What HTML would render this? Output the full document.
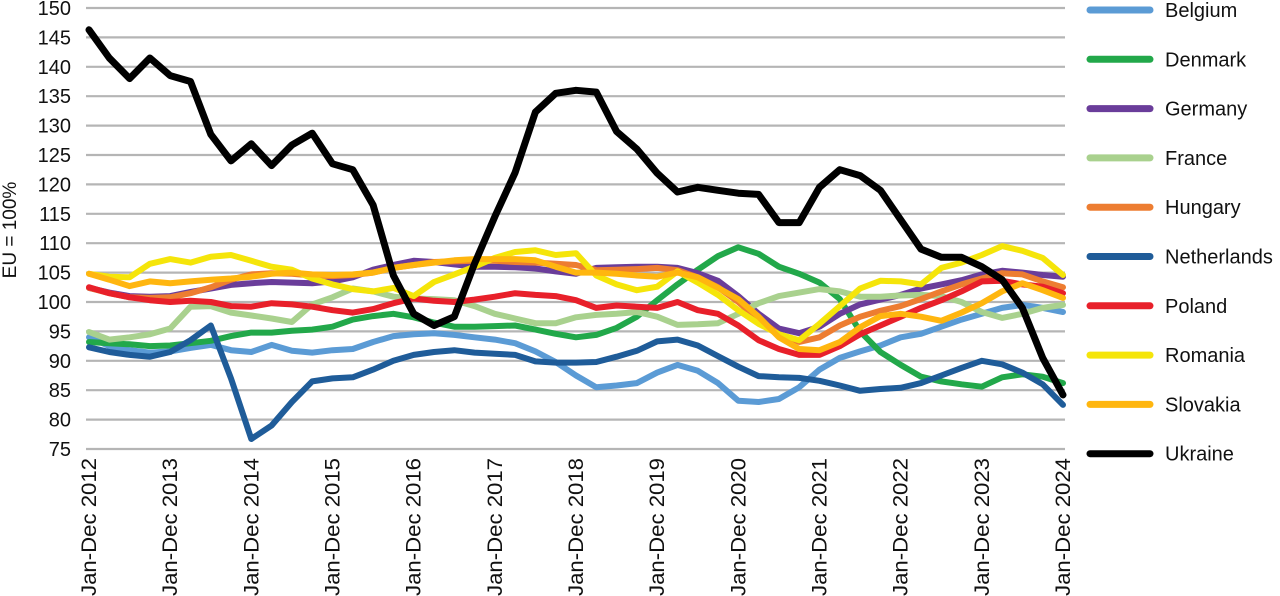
<!DOCTYPE html>
<html><head><meta charset="utf-8"><style>
html,body{margin:0;padding:0;background:#fff;}
svg{display:block;font-family:"Liberation Sans",Arial,sans-serif;}
</style></head><body>
<svg id="chart" width="1280" height="596" viewBox="0 0 1280 596" xmlns="http://www.w3.org/2000/svg">
<g id="grid"></g>
<g id="yaxis"></g>
<g id="xaxis"></g>
<text transform="translate(16,230) rotate(-90)" text-anchor="middle" font-size="19" fill="#111">EU = 100%</text>
<g id="series"></g>
<g id="legend"></g>
</svg>
<script>
const xLabels=["Jan-Dec 2012","Jan-Dec 2013","Jan-Dec 2014","Jan-Dec 2015","Jan-Dec 2016","Jan-Dec 2017","Jan-Dec 2018","Jan-Dec 2019","Jan-Dec 2020","Jan-Dec 2021","Jan-Dec 2022","Jan-Dec 2023","Jan-Dec 2024"];
const yTicks=[75,80,85,90,95,100,105,110,115,120,125,130,135,140,145,150];
const seriesNames=["Belgium","Denmark","Germany","France","Hungary","Netherlands","Poland","Romania","Slovakia","Ukraine"];
const seriesColors=["#5b9bd5","#22a84a","#6a3d9a","#a9d18e","#ed7d31","#1f5c99","#e8202a","#f5e50a","#ffb60f","#000000"];
// quarterly values, Q index 0 = Jan-Dec 2012 ... 48 = Jan-Dec 2024
const belgium=[94,92.5,91.8,91.4,91.6,92.2,92.7,91.8,91.5,92.7,91.7,91.4,91.8,92,93.2,94.2,94.5,94.7,94.4,94,93.6,93,91.6,89.8,87.5,85.5,85.8,86.2,88,89.3,88.3,86.2,83.2,83,83.5,85.5,88.5,90.5,91.6,92.6,94,94.6,95.8,97,98,99,99.5,99,98.3];
const denmark=[93.2,93,92.8,92.5,92.6,93,93.4,94.2,94.8,94.8,95.1,95.3,95.8,97,97.6,98,97.4,96.5,95.8,95.8,95.9,96,95.3,94.6,94,94.4,95.6,97.5,100.3,103,105.5,107.8,109.3,108.2,106,104.8,103.3,100.5,95,91.5,89.3,87.3,86.5,86,85.6,87.2,87.7,87.3,86.2];
const germany=[102.4,101.6,101,100.9,101,101.7,102.3,102.9,103.2,103.4,103.3,103.2,103.5,104.2,105.5,106.3,107,106.8,106.4,106,106,105.9,105.7,105.2,104.8,105.8,105.9,106,106,105.8,104.9,103.6,101,98,95.5,94.7,95.8,98,99.6,100.4,101.2,102.3,103,103.7,104.7,105.3,105,104.6,104.3];
const france=[94.9,93.6,94,94.5,95.5,99.2,99.3,98.2,97.7,97.2,96.6,99.6,100.8,102.3,101.8,100.9,100.6,100.5,100.3,99.3,98,97.2,96.4,96.4,97.4,97.8,98,98.3,97.5,96.1,96.2,96.4,98,99.8,101,101.6,102.2,101.8,100.9,100.9,101.1,101.2,101,100,98.3,97.3,98,99,99.5];
const hungary=[102.4,101.5,100.8,100.7,100.8,101.5,102.5,103.8,104.7,104.9,104.8,104.5,104.4,104.6,105,105.8,106.3,106.8,106.9,107,107,106.8,106.7,106.5,106.3,105.4,105.5,105.6,105.8,105.4,104.2,102.5,100,97,94.5,93.2,94,96,97.5,98.5,99.3,100.5,101.8,103,104,104.9,104.7,103.5,102.5];
const netherlands=[92.3,91.5,91,90.7,91.5,93.5,96,87,76.7,79,83,86.5,87,87.2,88.5,90,91,91.5,91.8,91.4,91.2,91,89.9,89.7,89.7,89.8,90.7,91.7,93.3,93.6,92.6,90.8,89,87.4,87.2,87.1,86.6,85.8,84.9,85.2,85.4,86.2,87.5,88.8,90,89.4,88,86,82.5];
const poland=[102.5,101.5,100.8,100.3,100,100.2,100,99.3,99.2,99.8,99.6,99.2,98.6,98.2,98.8,99.8,100.6,100.2,100,100.4,100.9,101.5,101.2,101,100.3,99,99.4,99.2,99,100,98.6,98,96,93.5,92,91,91,92.5,94.5,96,97.5,99,100.3,101.8,103.5,103.6,103,102.6,101.5];
const romania=[104.8,104.3,104.2,106.5,107.3,106.7,107.7,108,107,106,105.5,104,103,102.2,101.8,102.4,101,103.4,104.7,106,107.5,108.5,108.8,108,108.3,104.5,103,102,102.6,105.2,103.3,101.2,98.6,96.3,94.5,93.5,96.3,99.3,102.3,103.6,103.5,103,105.8,106.7,108,109.5,108.7,107.5,104.6];
const slovakia=[104.8,103.8,102.7,103.5,103.2,103.5,103.8,104,104.3,104.8,105,104.7,104.6,104.7,105,105.8,106.3,106.7,107.1,107.3,107.3,107.3,107.1,106,105,105,104.8,104.5,104.3,105,104.2,102.4,100.5,97.5,94,92,91.8,93.2,95.7,97.6,98,97.5,96.8,98.2,99.8,101.8,103.2,102,100.7];
const ukraine=[146.3,141.5,138,141.5,138.5,137.5,128.5,124,126.9,123.2,126.7,128.7,123.5,122.5,116.5,104.5,98,96,97.5,106.5,114.5,122,132.3,135.5,136,135.7,129,126,121.9,118.7,119.5,119,118.5,118.3,113.5,113.5,119.5,122.5,121.5,119,114,109,107.6,107.6,106,103.8,99,90.5,84.2];
const seriesData=[belgium,denmark,germany,france,hungary,netherlands,poland,romania,slovakia,ukraine];

const NS="http://www.w3.org/2000/svg";
const X0=89,X1=1063,Y150=8,Y75=449;
const nQ=48;
function xScale(q){return X0+(X1-X0)*q/nQ;}
function yScale(v){return Y75-(v-75)*(Y75-Y150)/75;}
function mk(tag,attrs,parent){const e=document.createElementNS(NS,tag);for(const k in attrs)e.setAttribute(k,attrs[k]);parent.appendChild(e);return e;}

const grid=document.getElementById('grid'),yax=document.getElementById('yaxis'),xax=document.getElementById('xaxis');
yTicks.forEach(t=>{
  const y=yScale(t);
  const l=mk('line',{x1:86,x2:X1+2,y1:y,y2:y,stroke:'#b5b5b5','stroke-width':2.2},grid);
  
  
  const tx=mk('text',{x:71,y:y+7,'text-anchor':'end','font-size':20,fill:'#111'},yax);
  tx.textContent=t;
  
  
});
xLabels.forEach((lab,i)=>{
  const x=xScale(i*4)+7;
  const tx=mk('text',{transform:'translate('+x+',596) rotate(-90)','text-anchor':'start','font-size':21,fill:'#111',textLength:138,lengthAdjust:'spacingAndGlyphs'},xax);
  tx.textContent=lab;
  
  
});
const sg=document.getElementById('series');
seriesData.forEach((d,s)=>{
  const pts=d.map((v,q)=>xScale(q).toFixed(1)+','+yScale(v).toFixed(1)).join(' ');
  const p=mk('polyline',{points:pts,fill:'none',stroke:seriesColors[s],'stroke-width':s===9?7:6,'stroke-linejoin':'round','stroke-linecap':'round'},sg);
  
  
});
const lg=document.getElementById('legend');
seriesNames.forEach((n,i)=>{
  const y=10+i*49.3;
  const g=mk('g',{},lg);
  
  
  mk('line',{x1:1090,x2:1150,y1:y,y2:y,stroke:seriesColors[i],'stroke-width':7,'stroke-linecap':'round'},g);
  const t=mk('text',{x:1165,y:y+7,'font-size':20,fill:'#111'},g);
  t.textContent=n;
});
</script>
</body></html>
